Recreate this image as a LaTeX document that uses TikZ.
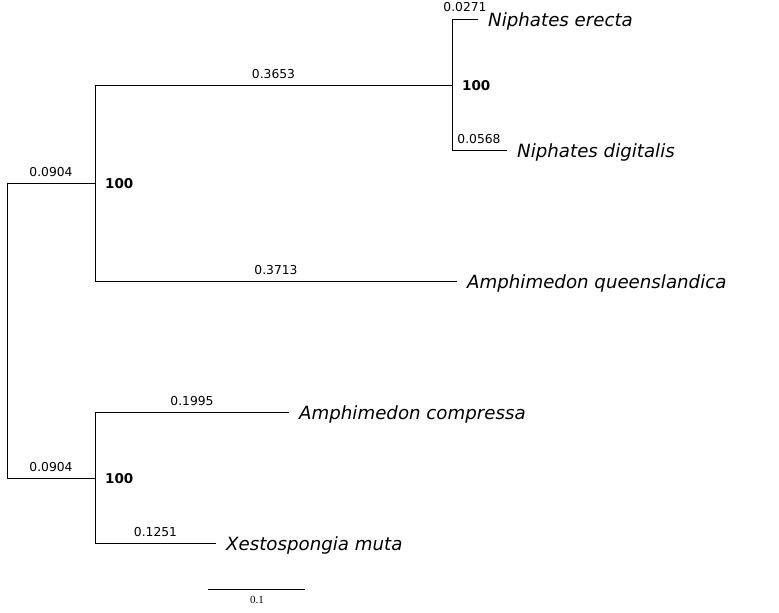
\documentclass[tikz,border=0pt]{standalone}
\usepackage{fontspec}
\setmainfont{DejaVu Sans}
\newfontfamily\serifnum{Liberation Serif}
\begin{document}
\begin{tikzpicture}[x=1pt,y=-1pt,
  branch/.style={line width=0.9pt,line cap=rect},
  taxon/.style={anchor=base west,inner sep=0pt,font=\fontsize{18.2pt}{18pt}\selectfont\itshape},
  blen/.style={anchor=base,inner sep=0pt,font=\fontsize{12.3pt}{12.3pt}\selectfont},
  boot/.style={anchor=west,inner sep=0pt,font=\fontsize{13.5pt}{13.5pt}\selectfont\bfseries}]
\useasboundingbox (0,0) rectangle (779,613);
% tree coordinates
\coordinate (rt) at (7,183);
\coordinate (rb) at (7,478);
\coordinate (A) at (95,183);
\coordinate (At) at (95,85);
\coordinate (Ab) at (95,281);
\coordinate (N) at (452,85);
\coordinate (Nt) at (452,19);
\coordinate (Nb) at (452,150);
\coordinate (ne) at (478,19);
\coordinate (nd) at (507,150);
\coordinate (aq) at (457,281);
\coordinate (B) at (95,478);
\coordinate (Bt) at (95,412);
\coordinate (Bb) at (95,543);
\coordinate (ac) at (289,412);
\coordinate (xm) at (216,543);
\coordinate (s1) at (208,589);
\coordinate (s2) at (305,589);
% branches
\draw[branch] (rt) -- (rb);
\draw[branch] (rt) -- (A);
\draw[branch] (rb) -- (B);
\draw[branch] (At) -- (Ab);
\draw[branch] (At) -- (N);
\draw[branch] (Ab) -- (aq);
\draw[branch] (Nt) -- (Nb);
\draw[branch] (Nt) -- (ne);
\draw[branch] (Nb) -- (nd);
\draw[branch] (Bt) -- (Bb);
\draw[branch] (Bt) -- (ac);
\draw[branch] (Bb) -- (xm);
\draw[line width=0.9pt] (s1) -- (s2);
% taxa
\node[taxon] (tne) at (488,26) {Niphates erecta};
\node[taxon] (tnd) at (517,157) {Niphates digitalis};
\node[taxon] (taq) at (467,288) {Amphimedon queenslandica};
\node[taxon] (tac) at (299,419) {Amphimedon compressa};
\node[taxon] (txm) at (226,550) {Xestospongia muta};
% branch lengths
\node[blen] (l1) at (465,12) {0.0271};
\node[blen] (l2) at (479,143) {0.0568};
\node[blen] (l3) at (273.5,78) {0.3653};
\node[blen] (l4) at (276,274) {0.3713};
\node[blen] (l5) at (51,176) {0.0904};
\node[blen] (l6) at (51,471) {0.0904};
\node[blen] (l7) at (192,405) {0.1995};
\node[blen] (l8) at (155.5,536) {0.1251};
% bootstrap
\node[boot] (b1) at (462,86) {100};
\node[boot] (b2) at (105,184) {100};
\node[boot] (b3) at (105,479) {100};
% scale
\node[anchor=center,inner sep=0pt,font=\serifnum\fontsize{11pt}{11pt}\selectfont] (sc) at (257,600) {0.1};
\end{tikzpicture}
\end{document}
